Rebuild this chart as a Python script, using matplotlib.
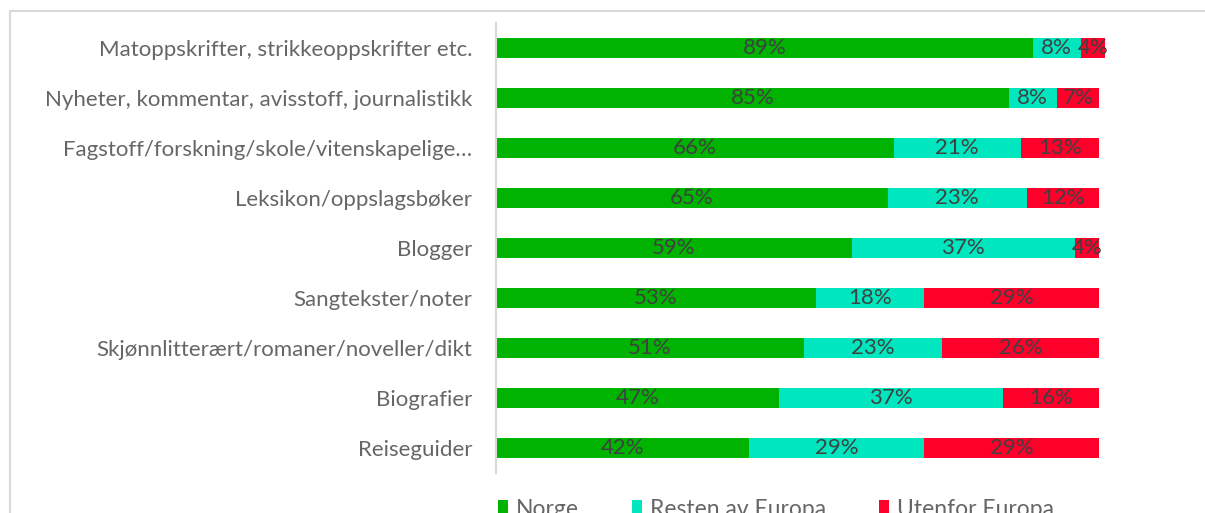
import matplotlib.pyplot as plt
from matplotlib.patches import Rectangle

# Kategorien und Werte (Anteile in %)
kategorien = [
    "Matoppskrifter, strikkeoppskrifter etc.",
    "Nyheter, kommentar, avisstoff, journalistikk",
    "Fagstoff/forskning/skole/vitenskapelige…",
    "Leksikon/oppslagsbøker",
    "Blogger",
    "Sangtekster/noter",
    "Skjønnlitterært/romaner/noveller/dikt",
    "Biografier",
    "Reiseguider",
]
norge = [89, 85, 66, 65, 59, 53, 51, 47, 42]
resten_europa = [8, 8, 21, 23, 37, 18, 23, 37, 29]
utenfor_europa = [4, 7, 13, 12, 4, 29, 26, 16, 29]

serien = ["Norge", "Resten av Europa", "Utenfor Europa"]
farben = ["#00B300", "#00E6BE", "#FF002B"]

plt.rcParams['font.family'] = ['Lato', 'DejaVu Sans']

W, H = 1205, 513
fig = plt.figure(figsize=(W / 100, H / 100), dpi=100)

# Rahmen des Diagrammbereichs
fig.patches.append(Rectangle((10 / W, -0.1), 1.2, (H - 11) / H + 0.1,
                             transform=fig.transFigure, fill=False,
                             edgecolor="#D9D9D9", linewidth=1.5))

ax = fig.add_axes([496 / W, 1 - 473 / H, (W - 496) / W, 450 / H])

y = list(range(len(kategorien)))
links = [0] * len(kategorien)
for name, werte, farbe in zip(serien, [norge, resten_europa, utenfor_europa], farben):
    bars = ax.barh(y, werte, left=links, height=0.4, color=farbe, label=name)
    for b, v in zip(bars, werte):
        ax.text(b.get_x() + b.get_width() / 2, b.get_y() + b.get_height() / 2,
                f"{v}%", ha="center", va="center", fontsize=16,
                color="#404040")
    links = [l + v for l, v in zip(links, werte)]

ax.set_xlim(0, (W - 496) / 6.03)
ax.set_ylim(len(kategorien) - 0.5, -0.5)
ax.set_yticks(y)
ax.set_yticklabels(kategorien, fontsize=16, color="#666666")
ax.tick_params(axis="y", length=0, pad=17)
ax.set_xticks([])
for s in ["top", "right", "bottom"]:
    ax.spines[s].set_visible(False)
ax.spines["left"].set_color("#D9D9D9")
ax.spines["left"].set_linewidth(1.5)

fig.legend(loc="upper left", bbox_to_anchor=(477 / W, 1 - 478 / H), ncol=3,
           frameon=False, fontsize=16.5, handlelength=0.45, handleheight=0.7,
           handletextpad=0.35, columnspacing=2.3, labelcolor="#666666")

fig.savefig("out.png", dpi=100)
